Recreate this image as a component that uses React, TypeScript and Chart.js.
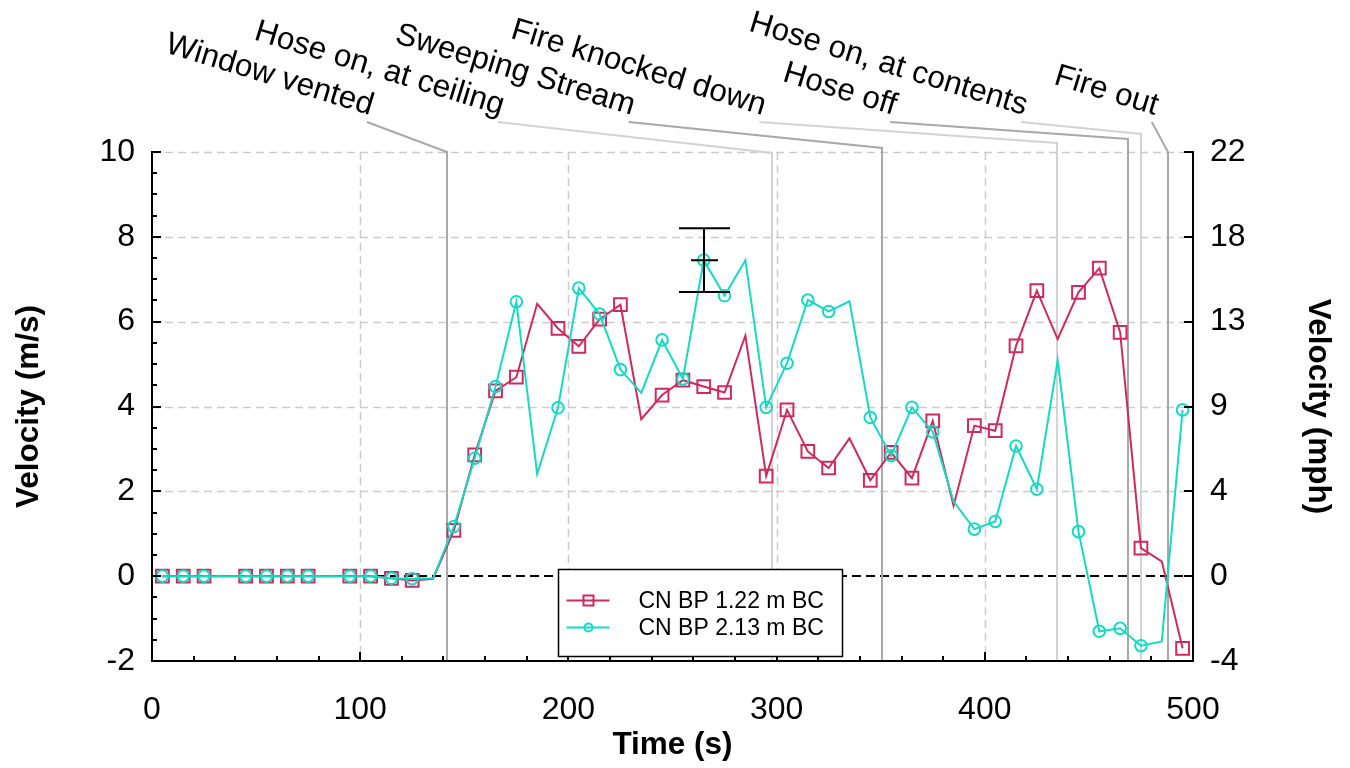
import React, { useEffect, useRef } from 'react';
import { Chart, registerables } from 'chart.js';

Chart.register(...registerables);

// ---------- data ----------
const times = [
  5, 15, 25, 35, 45, 55, 65, 75, 85, 95,
  105, 115, 125, 135, 145, 155, 165, 175, 185, 195,
  205, 215, 225, 235, 245, 255, 265, 275, 285, 295,
  305, 315, 325, 335, 345, 355, 365, 375, 385, 395,
  405, 415, 425, 435, 445, 455, 465, 475, 485, 495,
];
const probe122 = [
  0, 0, 0, 0, 0, 0, 0, 0, 0, 0,
  0, -0.05, -0.1, -0.06, 1.08, 2.86, 4.37, 4.69, 6.42, 5.84,
  5.42, 6.06, 6.4, 3.7, 4.27, 4.62, 4.47, 4.33, 5.67, 2.36,
  3.92, 2.94, 2.55, 3.25, 2.26, 2.92, 2.31, 3.66, 1.66, 3.55,
  3.43, 5.43, 6.73, 5.59, 6.69, 7.26, 5.75, 0.66, 0.35, -1.7,
];
const probe213 = [
  0, 0, 0, 0, 0, 0, 0, 0, 0, 0,
  0, -0.05, -0.06, -0.05, 1.17, 2.78, 4.47, 6.47, 2.41, 3.97,
  6.79, 6.18, 4.87, 4.32, 5.57, 4.65, 7.45, 6.61, 7.45, 3.98,
  5.02, 6.51, 6.24, 6.48, 3.74, 2.84, 3.98, 3.4, 1.76, 1.11,
  1.29, 3.07, 2.05, 5.09, 1.05, -1.3, -1.23, -1.64, -1.54, 3.92,
];
const unmarkedTimes = [35, 85, 135, 185, 235, 285, 335, 385, 435, 485];
const seriesLabels = ['CN BP 1.22 m BC', 'CN BP 2.13 m BC'];

const eventTimes = [141.5, 298, 350.5, 434.5, 469, 475, 488];
const eventLabels = [
  'Window vented',
  'Hose on, at ceiling',
  'Sweeping Stream',
  'Fire knocked down',
  'Hose off',
  'Hose on, at contents',
  'Fire out',
];

const errorBarTime = 265;
const errorBarCenter = 7.45;
const errorBarHalf = 0.75;

const xMin = 0, xMax = 500, xStep = 100, xMinorStep = 20;
const yMin = -2, yMax = 10, yStep = 2, yMinorStep = 0.5;
const MS_TO_MPH = 2.23694;

// ---------- style ----------
const RED = '#CC2B5E';
const CYAN = '#17D9C3';
const FONT = '"Liberation Sans", Arial, Helvetica, sans-serif';
const DARK_EVENT = '#a9a9a9';
const LIGHT_EVENT = '#d3d3d3';
const GRID = '#cccccc';
const leaderRise = [0, -1, 4, 9, 13, 18, 0];

const decorPlugin = {
  id: 'decor',
  beforeDatasetsDraw(chart: any) {
    const { ctx, chartArea: ca, scales } = chart;
    const x = scales.x, y = scales.y;
    ctx.save();
    // grid
    ctx.strokeStyle = GRID;
    ctx.lineWidth = 1.5;
    ctx.setLineDash([8, 5]);
    for (let v = xMin + xStep; v < xMax; v += xStep) {
      const px = Math.round(x.getPixelForValue(v)) + 0.5;
      ctx.beginPath(); ctx.moveTo(px, ca.top); ctx.lineTo(px, ca.bottom); ctx.stroke();
    }
    for (let v = yMin + yStep; v <= yMax; v += yStep) {
      if (v === 0) continue;
      const py = Math.round(y.getPixelForValue(v)) + 0.5;
      ctx.beginPath(); ctx.moveTo(ca.left, py); ctx.lineTo(ca.right, py); ctx.stroke();
    }
    // zero line
    ctx.strokeStyle = '#000';
    ctx.lineWidth = 2;
    ctx.setLineDash([9, 5]);
    const py0 = Math.round(y.getPixelForValue(0));
    ctx.beginPath(); ctx.moveTo(ca.left, py0); ctx.lineTo(ca.right, py0); ctx.stroke();
    ctx.setLineDash([]);

    // events
    eventTimes.forEach((t, i) => {
      const vx = Math.round(x.getPixelForValue(t));
      const color = i % 2 === 0 ? DARK_EVENT : LIGHT_EVENT;
      const lx = ca.left + 215 + i * 130.8;
      const ly = ca.top - 30;
      const topY = ca.top - leaderRise[i];
      ctx.strokeStyle = color;
      ctx.lineWidth = 2;
      ctx.beginPath();
      ctx.moveTo(lx, ly);
      ctx.lineTo(vx, topY);
      ctx.lineTo(vx, ca.bottom);
      ctx.stroke();
      ctx.save();
      ctx.translate(lx + 3, ly - 7);
      ctx.rotate((17 * Math.PI) / 180);
      ctx.font = `31.5px ${FONT}`;
      ctx.fillStyle = '#000';
      ctx.textAlign = 'right';
      ctx.textBaseline = 'alphabetic';
      ctx.fillText(eventLabels[i], 0, 0);
      ctx.restore();
    });
    ctx.restore();
  },
  afterDatasetsDraw(chart: any) {
    const { ctx, chartArea: ca, scales } = chart;
    const x = scales.x, y = scales.y;
    ctx.save();
    // error bar
    ctx.strokeStyle = '#000';
    ctx.lineWidth = 2;
    const ex = Math.round(x.getPixelForValue(errorBarTime));
    const eTop = y.getPixelForValue(errorBarCenter + errorBarHalf);
    const eBot = y.getPixelForValue(errorBarCenter - errorBarHalf);
    const eMid = y.getPixelForValue(errorBarCenter);
    ctx.beginPath();
    ctx.moveTo(ex, eTop); ctx.lineTo(ex, eBot);
    ctx.moveTo(ex - 25, eTop); ctx.lineTo(ex + 26, eTop);
    ctx.moveTo(ex - 25, eBot); ctx.lineTo(ex + 26, eBot);
    ctx.moveTo(ex - 13, eMid); ctx.lineTo(ex + 14, eMid);
    ctx.stroke();

    // axes
    ctx.lineWidth = 2;
    ctx.strokeStyle = '#000';
    ctx.beginPath();
    ctx.moveTo(ca.left, ca.top - 1); ctx.lineTo(ca.left, ca.bottom);
    ctx.lineTo(ca.right, ca.bottom); ctx.lineTo(ca.right, ca.top - 1);
    ctx.stroke();
    ctx.beginPath();
    // left ticks
    for (let v = yMin; v <= yMax + 1e-9; v += yMinorStep) {
      const py = Math.round(y.getPixelForValue(v));
      const major = Math.abs(v / yStep - Math.round(v / yStep)) < 1e-6;
      ctx.moveTo(ca.left, py); ctx.lineTo(ca.left + (major ? 9 : 5), py);
      if (major) { ctx.moveTo(ca.right, py); ctx.lineTo(ca.right - 9, py); }
    }
    // bottom ticks
    for (let v = xMin; v <= xMax + 1e-9; v += xMinorStep) {
      const px = Math.round(x.getPixelForValue(v));
      const major = v % xStep === 0;
      ctx.moveTo(px, ca.bottom); ctx.lineTo(px, ca.bottom - (major ? 9 : 5));
    }
    ctx.stroke();
    ctx.restore();
  },
  afterDraw(chart: any) {
    const { ctx, chartArea: ca } = chart;
    ctx.save();
    const bx = ca.left + 406.5, by = ca.top + 417.5, bw = 284, bh = 87;
    ctx.fillStyle = '#fff';
    ctx.fillRect(bx, by, bw, bh);
    ctx.strokeStyle = '#000';
    ctx.lineWidth = 1.5;
    ctx.strokeRect(bx, by, bw, bh);
    const rows = [by + 31, by + 58];
    const colors = [RED, CYAN];
    rows.forEach((ry, i) => {
      ctx.strokeStyle = colors[i];
      ctx.lineWidth = 2;
      ctx.beginPath();
      ctx.moveTo(bx + 8, ry); ctx.lineTo(bx + 51, ry);
      ctx.stroke();
      ctx.beginPath();
      if (i === 0) ctx.rect(bx + 25, ry - 5, 10, 10);
      else ctx.arc(bx + 30, ry, 4, 0, Math.PI * 2);
      ctx.stroke();
      ctx.fillStyle = '#000';
      ctx.font = `23px ${FONT}`;
      ctx.textAlign = 'left';
      ctx.textBaseline = 'middle';
      ctx.fillText(seriesLabels[i], bx + 80, ry + 1);
    });
    ctx.restore();
  },
};

export default function App() {
  const ref = useRef<HTMLCanvasElement | null>(null);
  useEffect(() => {
    document.body.style.margin = '0';
    const canvas = ref.current;
    if (!canvas) return;
    const radii = (r: number) => times.map((t) => (unmarkedTimes.includes(t) ? 0 : r));
    const tickFont = { family: FONT, size: 32 };
    const titleFont = { family: FONT, size: 31.5, weight: 'bold' as const };
    const chart = new Chart(canvas, {
      type: 'line',
      data: {
        datasets: [
          {
            label: seriesLabels[0],
            data: times.map((t, i) => ({ x: t, y: probe122[i] })),
            borderColor: RED,
            borderWidth: 2,
            pointStyle: 'rect',
            pointRadius: radii(9),
            pointBorderColor: RED,
            pointBackgroundColor: 'rgba(0,0,0,0)',
            pointBorderWidth: 2,
            tension: 0,
            order: 1,
          },
          {
            label: seriesLabels[1],
            data: times.map((t, i) => ({ x: t, y: probe213[i] })),
            borderColor: CYAN,
            borderWidth: 2,
            pointStyle: 'circle',
            pointRadius: radii(5.8),
            pointBorderColor: CYAN,
            pointBackgroundColor: 'rgba(0,0,0,0)',
            pointBorderWidth: 2,
            tension: 0,
            order: 0,
          },
        ],
      },
      options: {
        animation: false,
        responsive: false,
        devicePixelRatio: 1,
        layout: { padding: { top: 152, left: 0, right: 0, bottom: 0 } },
        plugins: { legend: { display: false }, tooltip: { enabled: false } },
        elements: { line: { borderJoinStyle: 'miter' } },
        scales: {
          x: {
            type: 'linear',
            min: xMin,
            max: xMax,
            grid: { display: false, drawTicks: false },
            border: { display: false },
            ticks: { stepSize: xStep, font: tickFont, color: '#000', padding: 30, maxRotation: 0, autoSkip: false },
            title: { display: true, text: 'Time (s)', font: titleFont, color: '#000', padding: { top: 0, bottom: 3.5 } },
            afterFit: (s: any) => { s.height = 107; },
          },
          y: {
            type: 'linear',
            position: 'left',
            min: yMin,
            max: yMax,
            grid: { display: false, drawTicks: false },
            border: { display: false },
            ticks: { stepSize: yStep, font: tickFont, color: '#000', padding: 17 },
            title: { display: true, text: 'Velocity (m/s)', font: titleFont, color: '#000', padding: { top: 10, bottom: 0 } },
            afterFit: (s: any) => { s.width = 152; },
          },
          y2: {
            type: 'linear',
            position: 'right',
            min: yMin,
            max: yMax,
            grid: { display: false, drawTicks: false },
            border: { display: false },
            ticks: {
              stepSize: yStep,
              font: tickFont,
              color: '#000',
              padding: 17,
              callback: (v: any) => String(Math.round(Number(v) * MS_TO_MPH)),
            },
            title: { display: true, text: 'Velocity (mph)', font: titleFont, color: '#000', padding: { top: 13, bottom: 0 } },
            afterFit: (s: any) => { s.width = 157; },
          },
        },
      },
      plugins: [decorPlugin],
    } as any);
    return () => chart.destroy();
  }, []);
  return (
    <div style={{ position: 'absolute', left: 0, top: 0, width: 1350, height: 768, background: '#fff' }}>
      <canvas ref={ref} width={1350} height={768} style={{ width: 1350, height: 768, display: 'block' }} />
    </div>
  );
}
